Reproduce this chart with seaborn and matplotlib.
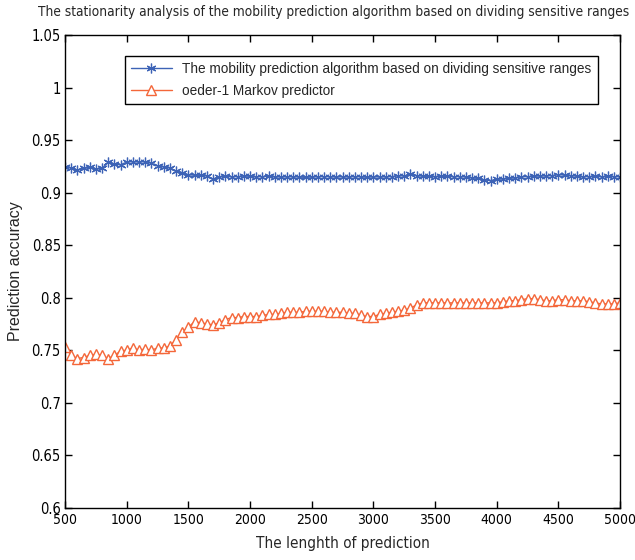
import numpy as np
import pandas as pd
import seaborn as sns
import matplotlib.pyplot as plt

# prediction length, every 50 steps
pred_len = np.arange(500, 5001, 50)

proposed = [
    0.9245, 0.9235, 0.9215, 0.9230, 0.9240, 0.9225, 0.9230, 0.9290, 0.9270, 0.9265,
    0.9290, 0.9295, 0.9290, 0.9295, 0.9280, 0.9255, 0.9245, 0.9235, 0.9205, 0.9190,
    0.9170, 0.9165, 0.9165, 0.9160, 0.9128, 0.9150, 0.9155, 0.9150, 0.9152, 0.9158,
    0.9155, 0.9150, 0.9152, 0.9155, 0.9150, 0.9148, 0.9150, 0.9150, 0.9148, 0.9145,
    0.9148, 0.9150, 0.9152, 0.9150, 0.9148, 0.9150, 0.9148, 0.9152, 0.9150, 0.9145,
    0.9150, 0.9148, 0.9150, 0.9152, 0.9160, 0.9158, 0.9175, 0.9162, 0.9155, 0.9155,
    0.9152, 0.9155, 0.9155, 0.9150, 0.9152, 0.9148, 0.9140, 0.9135, 0.9120, 0.9115,
    0.9125, 0.9130, 0.9135, 0.9140, 0.9150, 0.9152, 0.9155, 0.9158, 0.9158, 0.9162,
    0.9172, 0.9165, 0.9162, 0.9155, 0.9150, 0.9152, 0.9155, 0.9150, 0.9155, 0.9152,
    0.9150,
]

markov = [
    0.753, 0.745, 0.742, 0.743, 0.745, 0.746, 0.745, 0.742, 0.745, 0.749,
    0.750, 0.752, 0.750, 0.751, 0.750, 0.752, 0.752, 0.754, 0.760, 0.767,
    0.772, 0.777, 0.776, 0.775, 0.774, 0.776, 0.779, 0.781, 0.781, 0.782,
    0.782, 0.782, 0.783, 0.784, 0.784, 0.785, 0.786, 0.786, 0.786, 0.787,
    0.787, 0.787, 0.787, 0.786, 0.786, 0.786, 0.785, 0.785, 0.783, 0.782,
    0.782, 0.784, 0.785, 0.786, 0.787, 0.788, 0.790, 0.793, 0.795, 0.795,
    0.795, 0.795, 0.795, 0.795, 0.795, 0.795, 0.795, 0.795, 0.795, 0.795,
    0.795, 0.796, 0.797, 0.797, 0.798, 0.799, 0.799, 0.798, 0.797, 0.797,
    0.798, 0.798, 0.797, 0.797, 0.797, 0.796, 0.795, 0.794, 0.794, 0.794,
    0.795,
]

label_a = "The mobility prediction algorithm based on dividing sensitive ranges"
label_b = "oeder-1 Markov predictor"
title = "The stationarity analysis of the mobility prediction algorithm based on dividing sensitive ranges"

df = pd.DataFrame({"length": pred_len, "proposed": proposed, "markov": markov})

blue = "#3d63b6"
orange = "#f4673a"

sns.set_style("ticks")
plt.rcParams["font.family"] = ["DejaVu Sans"]
plt.rcParams["font.stretch"] = "condensed"

fig = plt.figure(figsize=(6.35, 5.6), dpi=100)
ax = fig.add_axes([0.1024, 0.0934, 0.874, 0.844])

sns.lineplot(data=df, x="length", y="proposed", ax=ax, color=blue,
             marker=(6, 2, 0), markersize=7, markeredgewidth=0.9,
             markeredgecolor=blue, linewidth=1.0, label=label_a)
sns.lineplot(data=df, x="length", y="markov", ax=ax, color=orange,
             marker="^", markersize=7, markerfacecolor="white",
             markeredgecolor=orange, markeredgewidth=1.0,
             linewidth=1.0, label=label_b)

ax.set_xlim(500, 5000)
ax.set_ylim(0.6, 1.05)
ax.set_xticks(range(500, 5001, 500))
ax.set_yticks([0.6, 0.65, 0.7, 0.75, 0.8, 0.85, 0.9, 0.95, 1.0, 1.05])
ax.set_yticklabels(["0.6", "0.65", "0.7", "0.75", "0.8", "0.85", "0.9", "0.95", "1", "1.05"])
ax.tick_params(direction="in", top=True, right=True, length=5, width=1,
               labelsize=10.5, colors="black", pad=3)
ax.tick_params(axis="x", labelsize=10, pad=4)
for s in ax.spines.values():
    s.set_color("black")
    s.set_linewidth(1)

fig.text(0.06, 0.978, title, fontsize=9.8, ha="left", va="center")
ax.set_xlabel("The lenghth of prediction", fontsize=11, labelpad=6)
ax.set_ylabel("Prediction accuracy", fontsize=11.5, labelpad=6,
              family=["Liberation Sans", "DejaVu Sans"], stretch="normal")

leg = ax.legend(loc="upper right", bbox_to_anchor=(0.960, 0.9556), borderaxespad=0,
                frameon=True, fancybox=False, edgecolor="black", framealpha=1,
                prop={"family": ["Liberation Sans", "DejaVu Sans"], "size": 9.8},
                handlelength=3.0, borderpad=0.45, labelspacing=0.55)
leg.get_frame().set_linewidth(1)

fig.savefig("out.png", dpi=100)
